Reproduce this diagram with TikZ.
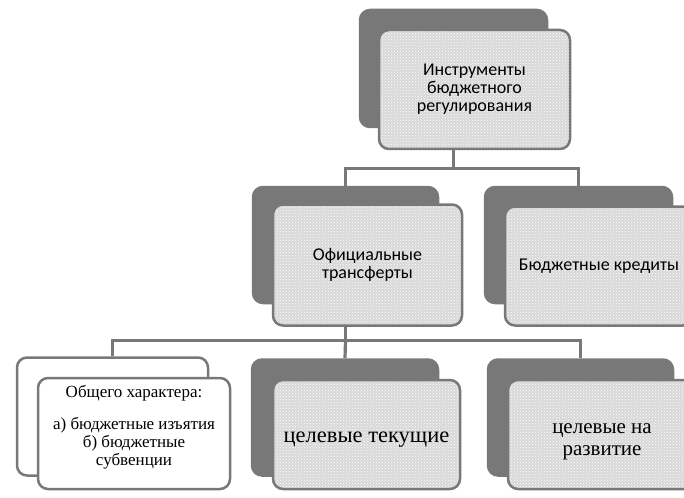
\documentclass[tikz,border=0pt]{standalone}
\usepackage{fontspec}
\setmainfont{Liberation Serif}
\newfontfamily\carl{Carlito}
\usetikzlibrary{patterns}
\definecolor{dg}{RGB}{120,120,120}
\definecolor{lg}{RGB}{216,216,216}
\tikzset{
  backbox/.style={draw=dg, line width=2.5pt, fill=dg, rounded corners=10pt},
  backwhite/.style={draw=dg, line width=2.5pt, fill=white, rounded corners=10pt},
  frontbox/.style={draw=dg, line width=2.5pt, rounded corners=10pt,
    preaction={fill=lg}, pattern=crosshatch dots, pattern color=white},
  frontwhite/.style={draw=dg, line width=2.5pt, fill=white, rounded corners=10pt},
  conn/.style={draw=dg, line width=3.2pt},
  sanstext/.style={font=\carl\fontsize{18}{18}\selectfont, align=center},
}
\begin{document}
\begin{tikzpicture}[x=1pt,y=-1pt]
\useasboundingbox (0,0) rectangle (684,497);
% back boxes (as nodes)
\node[backbox, minimum width=187pt, minimum height=117pt, inner sep=0pt] (topb) at (453.5,68.5) {};
\node[backbox, minimum width=185pt, minimum height=116pt, inner sep=0pt] (mlb) at (345.5,245) {};
\node[backbox, minimum width=187pt, minimum height=116pt, inner sep=0pt] (mrb) at (578.5,245) {};
\node[backwhite, minimum width=191pt, minimum height=118pt, inner sep=0pt] (blb) at (112.5,416.5) {};
\node[backbox, minimum width=186pt, minimum height=116pt, inner sep=0pt] (bmb) at (345,417.5) {};
\node[backbox, minimum width=185pt, minimum height=116pt, inner sep=0pt] (brb) at (580.5,417.5) {};
% front boxes
\node[frontbox, minimum width=191pt, minimum height=119pt, inner sep=0pt] (top) at (474.5,89.5) {};
\node[sanstext] at (top.center) {Инструменты\\бюджетного\\регулирования};
\node[frontbox, minimum width=189pt, minimum height=121pt, inner sep=0pt] (ml) at (367.5,265) {};
\node[sanstext] at (ml.center) {Официальные\\трансферты};
\node[frontbox, minimum width=188pt, minimum height=119pt, inner sep=0pt] (mr) at (599,266) {};
\node[sanstext] at (mr.center) {Бюджетные кредиты};
\node[frontwhite, minimum width=192pt, minimum height=111pt, inner sep=0pt] (bl) at (134,433.5) {};
\node[font=\fontsize{17}{18}\selectfont, align=center] at (134,427) {Общего характера:\\[14pt] а) бюджетные изъятия\\ б) бюджетные\\ субвенции};
\node[frontbox, minimum width=187pt, minimum height=109pt, inner sep=0pt] (bm) at (366.5,434.5) {};
\node[font=\fontsize{22.5}{24}\selectfont] at (366.5,440) {целевые текущие};
\node[frontbox, minimum width=188pt, minimum height=109pt, inner sep=0pt] (br) at (602,434.5) {};
\node[font=\fontsize{21}{22}\selectfont, align=center] at (602,442) {целевые на\\развитие};
% connectors
\draw[conn] (topb.center |- top.south) -- ++(0,18) coordinate (j1);
\draw[conn] (mlb.north) |- (j1) -| (mrb.north);
\draw[conn] (mlb.center |- ml.south) -- ++(0,14) coordinate (j2);
\draw[conn] (blb.north) |- (j2) -| (brb.north);
\draw[conn] (j2) -- (bmb.north);
\end{tikzpicture}
\end{document}
